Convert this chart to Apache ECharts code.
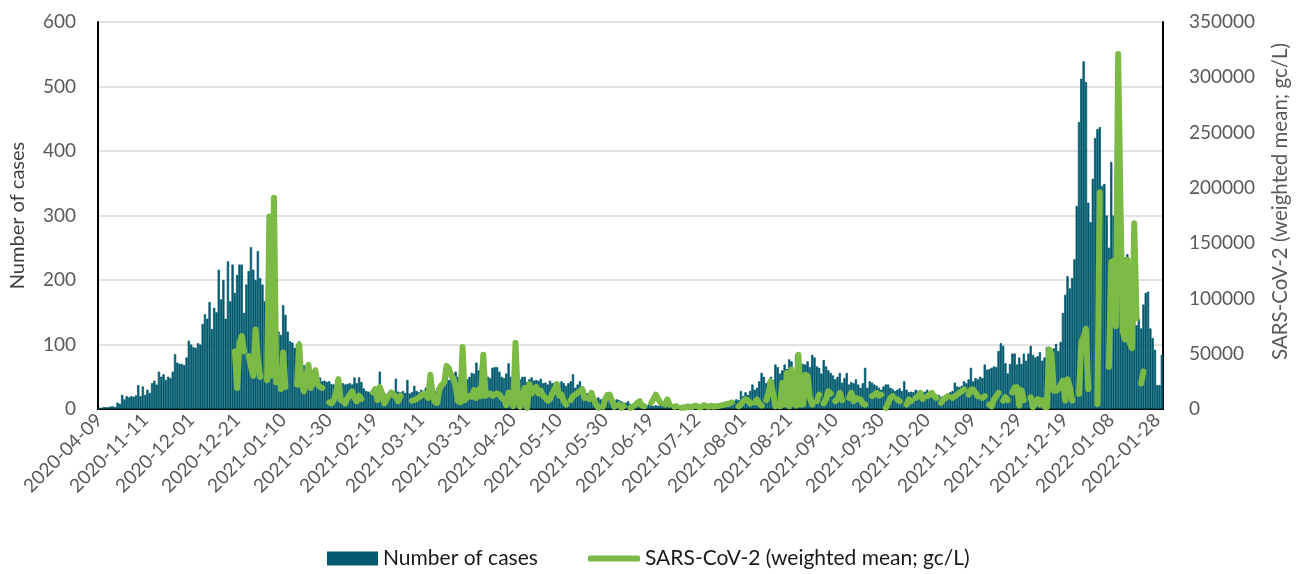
<!DOCTYPE html>
<html>
<head>
<meta charset="utf-8">
<script src="https://cdn.jsdelivr.net/npm/echarts@6/dist/echarts.min.js"></script>
<style>
html,body{margin:0;padding:0;background:#fff;}
#chart{width:1303px;height:574px;}
</style>
</head>
<body>
<div id="chart"></div>
<script>
// Date ranges that make up the category axis (one category per day)
const dateRanges = [
  ['2020-04-09', '2020-04-09'],
  ['2020-10-23', '2021-06-30'],
  ['2021-07-04', '2022-01-30']
];

// Number of cases (left axis)
const cases = [
  2,2,3,3,3,4,4,3,10,8,
  22,15,20,18,20,19,21,37,20,35,
  22,30,25,40,44,38,58,50,54,45,
  50,48,58,85,72,70,70,68,80,106,
  100,96,95,102,100,132,147,140,166,124,
  157,150,216,170,200,140,229,167,224,180,
  208,224,224,149,193,214,251,216,200,245,
  203,193,167,185,175,165,150,140,120,115,
  161,146,120,105,103,95,100,105,84,68,
  62,65,58,60,55,52,49,43,44,42,
  43,39,38,40,39,38,40,38,39,40,
  38,49,40,49,42,32,28,27,26,24,
  23,24,58,22,25,20,24,22,25,47,
  27,26,28,25,45,24,26,36,28,26,
  30,28,33,22,24,30,28,32,30,31,
  35,67,45,58,55,58,50,45,40,38,
  46,50,56,55,72,60,66,52,55,50,
  48,64,65,65,58,50,48,55,71,50,
  45,48,50,46,50,50,42,46,49,44,
  45,44,47,40,41,38,44,40,41,40,
  38,43,40,36,40,43,54,33,38,43,
  35,30,25,20,18,17,16,18,15,16,
  14,15,17,14,13,15,14,12,10,10,
  12,8,7,7,8,6,7,5,6,7,
  6,5,6,5,7,6,5,6,7,5,
  6,7,4,3,3,4,3,2,3,3,
  4,3,2,3,4,3,5,5,6,5,
  4,6,5,6,7,10,13,15,14,28,
  20,26,22,28,38,30,33,43,56,50,
  40,43,50,45,69,65,55,60,69,62,
  77,74,60,84,80,70,70,69,74,65,
  84,80,66,64,55,76,66,60,56,52,
  46,50,56,41,48,56,38,42,40,46,
  38,33,40,64,33,43,41,38,36,33,
  30,35,38,38,33,31,28,30,32,28,
  43,30,26,27,26,30,28,26,26,27,
  30,24,22,21,22,22,19,20,21,22,
  26,28,41,35,34,36,43,40,46,64,
  43,48,46,50,48,69,61,62,64,66,
  65,90,102,98,71,55,70,86,86,69,
  80,70,86,75,86,98,84,80,82,88,
  75,80,96,96,90,94,101,90,104,149,
  177,206,187,203,232,315,445,512,539,507,
  320,290,357,420,434,437,346,349,300,250,
  383,300,305,305,231,231,235,240,208,140,
  167,130,140,125,162,180,182,125,110,92,
  37,37,84
];

// SARS-CoV-2 weighted mean, gc/L (right axis); null = no sample
const sars = [
  null,null,null,null,null,null,null,null,null,null,
  null,null,null,null,null,null,null,null,null,null,
  null,null,null,null,null,null,null,null,null,null,
  null,null,null,null,null,null,null,null,null,null,
  null,null,null,null,null,null,null,null,null,null,
  null,null,null,null,null,null,null,null,null,52000,
  19000,60000,66000,52000,null,48000,38000,30000,72000,45000,
  29000,null,null,26000,174000,30000,191000,24000,null,18000,
  51000,20000,null,null,null,null,22000,58000,22000,16000,
  28000,40000,19000,25000,35000,22000,20000,19000,null,null,
  6000,5000,8000,15000,27000,8000,7000,5000,10000,13000,
  16000,10000,7000,12000,9000,null,null,null,null,15000,
  18000,8000,20000,14000,5000,9000,12000,15000,13000,11000,
  7000,12000,null,null,null,null,7500,8000,9000,10500,
  12000,14000,13000,10000,31000,12000,6000,5500,19000,22000,
  24000,39000,37000,30000,28000,20000,7000,6000,56000,8000,
  10500,12000,11000,17000,10000,17600,11600,49000,12000,13000,
  14000,12000,13000,14000,13000,10000,9000,3500,15000,8000,
  2500,60000,11600,2000,11600,19000,1000,22600,14000,18000,
  20000,14000,16600,12000,10000,7500,9000,14000,18000,22600,
  12000,13000,7000,4000,null,8000,11600,13000,14600,16000,
  18000,10000,null,9000,14600,8600,4000,1000,null,2000,
  8600,13000,13000,7000,2000,null,4000,1000,2500,null,
  null,1000,2000,3500,5600,7000,3000,2500,null,null,
  5600,9000,13000,9000,5600,null,4000,8600,4000,null,
  2000,2500,null,1000,1500,1200,2500,1500,2000,3000,
  2500,1500,2000,3500,2500,2000,3000,2000,2500,2500,
  3000,3500,4000,4500,5000,6000,null,null,2500,4000,
  7000,8600,8000,5000,null,6000,8600,5000,3000,null,
  8000,14600,25000,14000,2500,null,2500,23600,4000,32600,
  2500,35700,5000,3000,49000,4000,4000,31000,29700,10000,
  4000,null,7000,13000,null,5000,9000,16000,14000,null,
  7000,9000,14600,8000,null,null,10000,14600,7000,10000,
  9000,8600,5000,4000,null,null,11600,13000,14600,12000,
  13000,null,1000,5500,10000,11600,null,8600,7000,null,
  null,4000,8600,7000,null,10000,11600,14600,9000,null,
  11600,13000,14600,11600,10000,null,5500,8600,10000,11600,
  null,10000,11600,13000,14600,16000,17600,null,13000,17600,
  17600,14600,11600,null,10000,11600,null,4000,2400,8600,
  11600,14600,null,7600,10600,8000,null,15000,19600,19600,
  3000,17000,8000,null,null,10600,1500,6000,9000,4000,
  8000,2000,1500,54000,50000,16600,16600,18000,22000,25700,
  7600,27000,20000,7600,null,null,13600,60500,65000,72500,
  18000,null,null,null,4600,196000,null,null,null,38000,
  133000,134000,75000,321000,186000,70000,63000,135000,60000,55000,
  168000,82000,null,23000,34000,null,null,null,null,null,
  null,null,null
];

const seriesNames = ['Number of cases', 'SARS-CoV-2 (weighted mean; gc/L)'];

function expandDates(ranges) {
  const out = [];
  ranges.forEach(function (r) {
    const d = new Date(r[0] + 'T00:00:00Z');
    const end = new Date(r[1] + 'T00:00:00Z');
    while (d <= end) {
      out.push(d.toISOString().slice(0, 10));
      d.setUTCDate(d.getUTCDate() + 1);
    }
  });
  return out;
}
const categories = expandDates(dateRanges);
if (categories.length !== cases.length || cases.length !== sars.length) {
  console.error('length mismatch', categories.length, cases.length, sars.length);
}

const chart = echarts.init(document.getElementById('chart'), null, {renderer: 'canvas'});
const FONT = 'Lato';
const BAR = '#015a6e';
chart.setOption({
  animation: false,
  textStyle: {fontFamily: FONT},
  grid: {left: 97, right: 140, top: 22, bottom: 165},
  legend: [
    {
      data: [seriesNames[0]],
      left: 327, top: 548, padding: 0,
      icon: 'rect', itemWidth: 51, itemHeight: 14,
      itemStyle: {borderWidth: 0},
      textStyle: {fontFamily: FONT, fontSize: 21, color: '#1a1a1a'}
    },
    {
      data: [seriesNames[1]],
      left: 588, top: 548, padding: 0,
      icon: 'roundRect', itemWidth: 52, itemHeight: 6,
      textStyle: {fontFamily: FONT, fontSize: 21, color: '#1a1a1a'}
    }
  ],
  xAxis: {
    type: 'category',
    data: categories,
    boundaryGap: true,
    axisLine: {lineStyle: {color: '#000', width: 2}},
    axisTick: {show: false},
    axisLabel: {interval: 19, rotate: 45, fontSize: 19, color: '#595959', margin: 8, fontFamily: FONT},
    splitLine: {show: false}
  },
  yAxis: [
    {
      type: 'value', min: 0, max: 600, interval: 100,
      name: 'Number of cases', nameLocation: 'middle', nameGap: 70,
      nameTextStyle: {fontSize: 20, color: '#404040', fontFamily: FONT},
      axisLine: {show: true, lineStyle: {color: '#000', width: 2}},
      axisTick: {show: false},
      axisLabel: {fontSize: 19, color: '#595959', margin: 22, fontFamily: FONT},
      splitLine: {lineStyle: {color: '#d9d9d9', width: 1.5}}
    },
    {
      type: 'value', min: 0, max: 350000, interval: 50000,
      name: 'SARS-CoV-2 (weighted mean; gc/L)', nameLocation: 'middle', nameGap: 107,
      nameTextStyle: {fontSize: 20.5, color: '#595959', fontFamily: FONT, padding: [0, 0, 0, 28]},
      axisLine: {show: true, lineStyle: {color: '#000', width: 2}},
      axisTick: {show: false},
      axisLabel: {fontSize: 19, color: '#595959', margin: 26, fontFamily: FONT,
        formatter: function (v) { return String(v); }},
      splitLine: {show: false}
    }
  ],
  series: [
    {
      name: seriesNames[0], type: 'bar', yAxisIndex: 0,
      data: cases, barCategoryGap: '0%',
      itemStyle: {color: BAR, borderColor: BAR, borderWidth: 0.7}
    },
    {
      name: seriesNames[1], type: 'line', yAxisIndex: 1,
      data: sars, connectNulls: false, symbol: 'none', showSymbol: false,
      itemStyle: {color: '#7cba46'},
      lineStyle: {color: '#7cba46', width: 6, cap: 'round', join: 'round'}
    }
  ]
});
</script>
</body>
</html>
